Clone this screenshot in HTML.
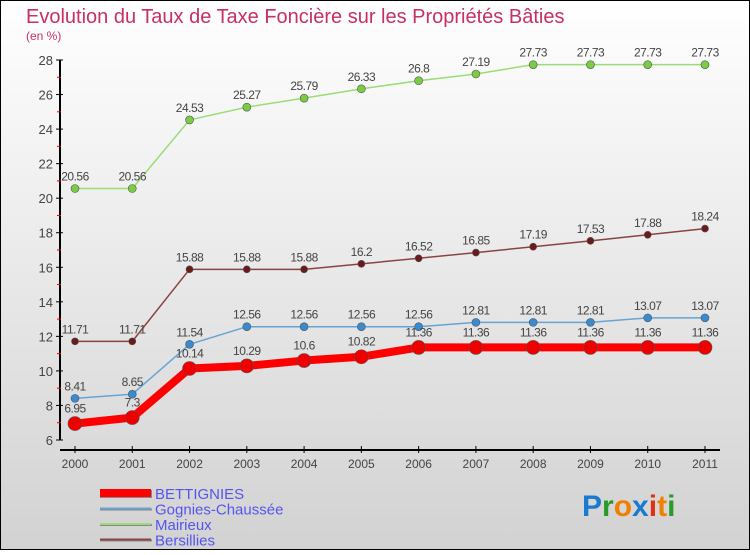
<!DOCTYPE html>
<html><head><meta charset="utf-8"><style>
body{margin:0;width:750px;height:550px;overflow:hidden;font-family:"Liberation Sans",sans-serif}
</style></head><body>
<svg id="c" width="750" height="550" xmlns="http://www.w3.org/2000/svg">
<defs><linearGradient id="bg" x1="0" y1="0" x2="0" y2="1"><stop offset="0" stop-color="#ffffff"/><stop offset="1" stop-color="#d2d2d2"/></linearGradient></defs>
<rect x="0.5" y="0.5" width="749" height="549" fill="url(#bg)" stroke="#000"/>
<text x="26" y="23" font-size="20" fill="#c8305f">Evolution du Taux de Taxe Foncière sur les Propriétés Bâties</text>
<text x="26" y="40" font-size="12" fill="#c8305f">(en %)</text>
<g id="axes"></g><g id="series"></g><g id="legend"></g>
<text x="582" y="516" font-size="30" font-weight="bold"><tspan fill="#1a7ad0">P</tspan><tspan fill="#2a9a2a">r</tspan><tspan fill="#f08000">o</tspan><tspan fill="#1a7ad0">x</tspan><tspan fill="#e03010">i</tspan><tspan fill="#f08000">t</tspan><tspan fill="#2a9a2a">i</tspan></text>
</svg>
<script>
const years=[2000,2001,2002,2003,2004,2005,2006,2007,2008,2009,2010,2011];
const bettignies=[6.95,7.3,10.14,10.29,10.6,10.82,11.36,11.36,11.36,11.36,11.36,11.36];
const gognies=[8.41,8.65,11.54,12.56,12.56,12.56,12.56,12.81,12.81,12.81,13.07,13.07];
const mairieux=[20.56,20.56,24.53,25.27,25.79,26.33,26.8,27.19,27.73,27.73,27.73,27.73];
const bersillies=[11.71,11.71,15.88,15.88,15.88,16.2,16.52,16.85,17.19,17.53,17.88,18.24];
const yTicks=[6,8,10,12,14,16,18,20,22,24,26,28];
const NS="http://www.w3.org/2000/svg";
const x=i=>75+i*(630/(years.length-1));
const y=v=>440-(v-6)*(380/22);
function mk(p,t,a){const e=document.createElementNS(NS,t);for(const k in a)e.setAttribute(k,a[k]);p.appendChild(e);return e;}
const ax=document.getElementById('axes');
let l=mk(ax,'line',{x1:60,y1:y(28),x2:60,y2:y(6),stroke:'#000','stroke-width':2});

l=mk(ax,'line',{x1:60,y1:450,x2:720,y2:450,stroke:'#000','stroke-width':2});

yTicks.forEach((v,k)=>{
 mk(ax,'line',{x1:56,y1:y(v),x2:63,y2:y(v),stroke:'#000'});
 if(k<yTicks.length-1)mk(ax,'line',{x1:57,y1:y(v+1),x2:61,y2:y(v+1),stroke:'#e00'});
 const t=mk(ax,'text',{x:53,y:y(v)+5,'text-anchor':'end','font-size':13,fill:'#444'});t.textContent=v;
 
});
years.forEach((yr,i)=>{
 mk(ax,'line',{x1:x(i),y1:446,x2:x(i),y2:453,stroke:'#000'});
 const t=mk(ax,'text',{x:x(i),y:468,'text-anchor':'middle','font-size':12,fill:'#444'});t.textContent=yr;
 
});
const sg=document.getElementById('series');
function series(name,vals,col,w,r,dot,above){
 const g=mk(sg,'g',{});
 
 mk(g,'polyline',{points:vals.map((v,i)=>x(i)+','+y(v)).join(' '),fill:'none',stroke:col,'stroke-width':w,'stroke-linejoin':'round'});
 vals.forEach((v,i)=>{
  const c=mk(g,'circle',{cx:x(i),cy:y(v),r:r,fill:dot,stroke:'#555','stroke-width':0.6});
  
  const t=mk(g,'text',{x:x(i),y:above?y(v)-8:y(v)-11,'text-anchor':'middle','font-size':12,fill:'#444','letter-spacing':'-0.5'});t.textContent=v;
  
 });
}
series('mairieux',mairieux,'#99dd77',1.5,4,'#7acc44',true);
series('bersillies',bersillies,'#884444',1.5,3.5,'#6a1a1a',true);
series('gognies',gognies,'#66a4d4',1.5,4,'#3a8ad0',true);
series('bettignies',bettignies,'#ff0000',8,7,'#ee0000',false);
const lg=document.getElementById('legend');
[['BETTIGNIES','#ff0000',8],['Gognies-Chaussée','#66a4d4',2],['Mairieux','#99dd77',2],['Bersillies','#884444',2]].forEach((d,i)=>{
 const yy=493+i*15.5;
 const g=mk(lg,'g',{});
 
 mk(g,'line',{x1:100,y1:yy+1,x2:152,y2:yy+1,stroke:'#888','stroke-width':d[2]});
 mk(g,'line',{x1:100,y1:yy,x2:151,y2:yy,stroke:d[1],'stroke-width':d[2]});
 const t=mk(g,'text',{x:155,y:yy+6,'font-size':15,fill:'#5555ee'});t.textContent=d[0];
});
</script>
</body></html>
